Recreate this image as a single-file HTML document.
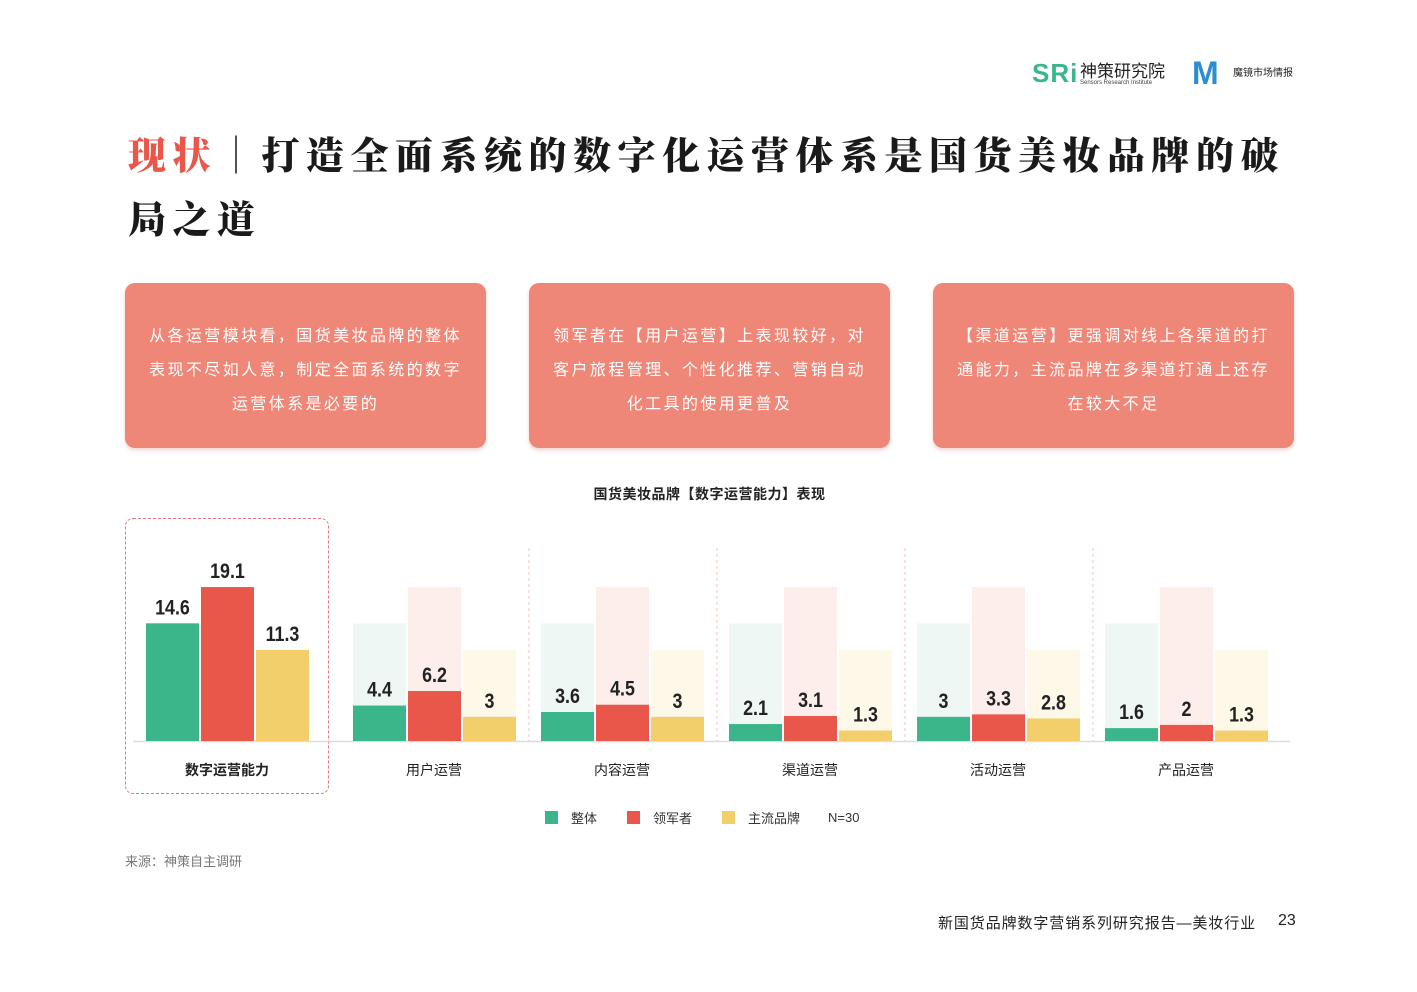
<!DOCTYPE html>
<html><head><meta charset="utf-8"><style>
body{margin:0;width:1417px;height:992px;background:#fff;position:relative;overflow:hidden;font-family:"Liberation Sans","Noto Sans CJK SC",sans-serif}
.abs{position:absolute}
.card{position:absolute;top:283px;width:361px;height:165px;background:#ee8777;border-radius:10px;color:#fff;font-size:16px;letter-spacing:2.4px;line-height:34px;text-align:center;box-sizing:border-box;padding-top:37px;box-shadow:0 2px 4px rgba(200,100,90,.3);white-space:nowrap}
</style></head><body>
<div class="abs" style="left:1032px;top:58px;font-size:26px;color:#3bb58a;font-weight:bold;letter-spacing:1px">SRi</div>
<div class="abs" style="left:1080px;top:57px;font-size:17px;color:#222">神策研究院</div>
<div class="abs" style="left:1080px;top:80px;font-size:6px;color:#444">Sensors Research Institute</div>
<div class="abs" style="left:1192px;top:55px;font-size:32px;font-weight:bold;color:#2a8ed0">M</div>
<div class="abs" style="left:1233px;top:64px;font-size:10px;color:#222">魔镜市场情报</div>

<div class="abs" style="left:128px;top:125px;width:1250px;font-family:'Liberation Serif','Noto Serif CJK SC',serif;font-weight:900;font-size:38px;line-height:64px;color:#1a1a1a;letter-spacing:6.5px;white-space:nowrap"><span style="color:#e8574a">现状</span>｜打造全面系统的数字化运营体系是国货美妆品牌的破<br>局之道</div>

<div class="card" style="left:125px">从各运营模块看，国货美妆品牌的整体<br>表现不尽如人意，制定全面系统的数字<br>运营体系是必要的</div>
<div class="card" style="left:529px">领军者在【用户运营】上表现较好，对<br>客户旅程管理、个性化推荐、营销自动<br>化工具的使用更普及</div>
<div class="card" style="left:933px">【渠道运营】更强调对线上各渠道的打<br>通能力，主流品牌在多渠道打通上还存<br>在较大不足</div>

<div class="abs" style="left:0;width:1419px;top:484px;text-align:center;font-size:14px;font-weight:bold;color:#222;letter-spacing:0.5px">国货美妆品牌【数字运营能力】表现</div>

<div class="abs" style="left:125px;top:518px;width:202px;height:274px;border:1px dashed #e07a72;border-radius:8px"></div>

<svg id="chart" class="abs" style="left:0;top:0" width="1417" height="992"></svg>

<div class="abs" style="left:545px;top:808px;font-size:13px;color:#333;display:flex;align-items:center">
<span style="width:13px;height:13px;background:#3bb58a;display:inline-block;margin-right:13px"></span><span style="margin-right:30px">整体</span>
<span style="width:13px;height:13px;background:#e8574a;display:inline-block;margin-right:13px"></span><span style="margin-right:30px">领军者</span>
<span style="width:13px;height:13px;background:#f2cf6b;display:inline-block;margin-right:13px"></span><span style="margin-right:28px">主流品牌</span>
<span>N=30</span></div>

<div class="abs" style="left:125px;top:851px;font-size:13px;color:#777">来源：神策自主调研</div>
<div class="abs" style="left:938px;top:912px;font-size:15px;color:#222;letter-spacing:0.9px">新国货品牌数字营销系列研究报告—美妆行业</div>
<div class="abs" style="left:1278px;top:912px;font-size:16px;color:#222">23</div>

<script>
const categories=["数字运营能力","用户运营","内容运营","渠道运营","活动运营","产品运营"];
const overall=[14.6,4.4,3.6,2.1,3,1.6];
const leader=[19.1,6.2,4.5,3.1,3.3,2];
const mainstream=[11.3,3,3,1.3,2.8,1.3];
const labels=[["14.6","19.1","11.3"],["4.4","6.2","3"],["3.6","4.5","3"],["2.1","3.1","1.3"],["3","3.3","2.8"],["1.6","2","1.3"]];
const svg=document.getElementById('chart');const NS='http://www.w3.org/2000/svg';
const base=741,scale=8.06;
const y=v=>base-v*scale;
const gx=i=>i===0?146:353+(i-1)*188;
const colors=["#3bb58a","#e8574a","#f2cf6b"],ghost=["#eef7f3","#fdeeec","#fdf8e8"];
const series=[overall,leader,mainstream];
function mk(t,a){const e=document.createElementNS(NS,t);for(const k in a)e.setAttribute(k,a[k]);svg.appendChild(e);return e;}
let l=mk('line',{x1:133,x2:1290,y1:base+0.5,y2:base+0.5,stroke:'#ddd','stroke-width':1.5});


for(let i=2;i<categories.length;i++){const x=gx(i)-12;
const d=mk('line',{x1:x,x2:x,y1:548,y2:base,stroke:'#f2c6c0','stroke-dasharray':'3,3'});

}
categories.forEach((c,i)=>{
 for(let s=0;s<3;s++){
  const x=gx(i)+s*55;
  if(i>0){const g=mk('rect',{x:x,y:y(series[s][0]),width:53,height:base-y(series[s][0]),fill:ghost[s]});
   
   }
  const v=series[s][i];
  const r=mk('rect',{x:x,y:y(v),width:53,height:base-y(v),fill:colors[s]});
  
  
  const t=mk('text',{x:x+26.5,y:y(v)-9,'text-anchor':'middle','font-size':21,'font-weight':'bold',fill:'#222','font-family':'Liberation Sans Narrow,Liberation Sans,sans-serif',transform:'translate('+(x+26.5)+',0) scale(0.85,1) translate('+(-(x+26.5))+',0)'});
  t.textContent=labels[i][s];
  
  
 }
 const ct=mk('text',{x:gx(i)+81,y:775,'text-anchor':'middle','font-size':14,fill:'#222','font-weight':i===0?'bold':'normal'});
 ct.textContent=c;
 
 
});
</script>
</body></html>
